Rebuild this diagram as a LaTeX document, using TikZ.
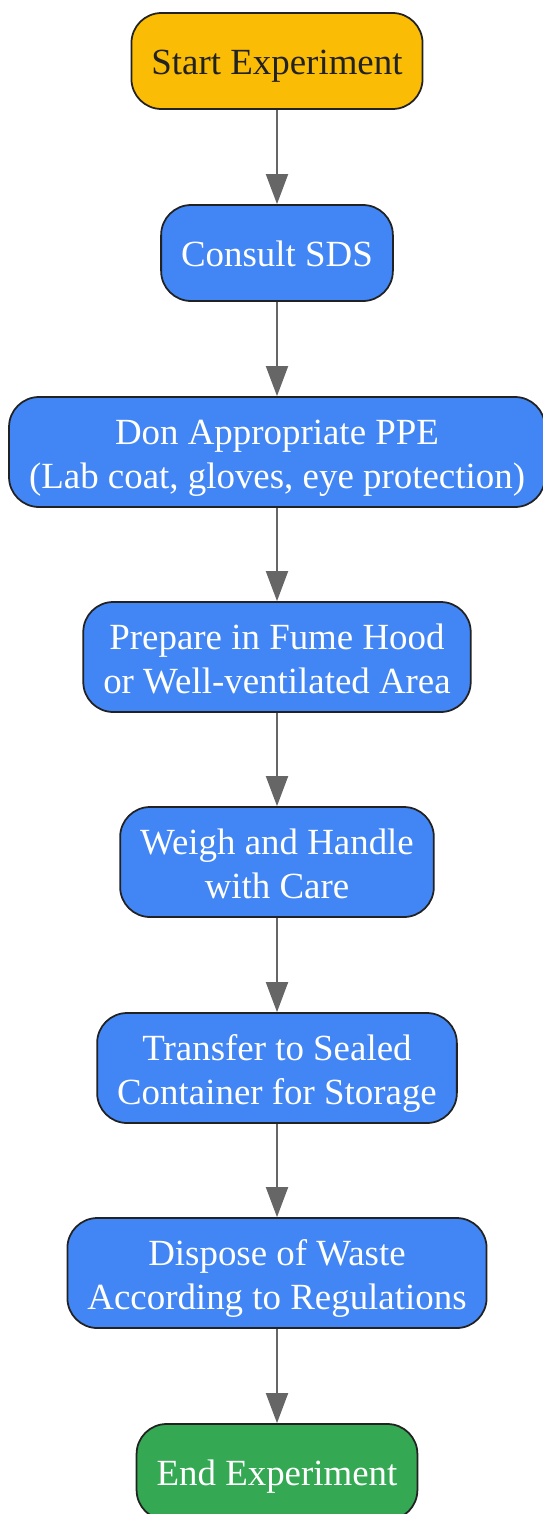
\documentclass[tikz,border=0pt]{standalone}
\usepackage{fontspec}
\setmainfont{Liberation Serif}
\usetikzlibrary{arrows.meta}

\begin{document}
\begin{tikzpicture}[
    stepnode/.style={draw=boxline, line width=1pt, rounded corners=0.6cm,
        align=center, inner xsep=0.4cm, inner ysep=0.1cm,
        font=\fontsize{21}{25}\selectfont},
    oneline/.style={stepnode, minimum height=1.92cm, text height=15pt, text depth=0pt},
    twoline/.style={stepnode, minimum height=2.2cm, text height=42pt, text depth=0pt},
    flow/.style={draw=arrowgray, line width=1.1pt,
        -{Triangle[width=0.44cm,length=0.6cm]}}
]
    % Define box colors
    \definecolor{startyellow}{HTML}{FBBC05}
    \definecolor{stepblue}{HTML}{4285F4}
    \definecolor{endgreen}{HTML}{34A853}
    \definecolor{boxline}{HTML}{222222}
    \definecolor{arrowgray}{HTML}{666666}

    % Fix the page size
    \useasboundingbox (0,0) rectangle (10.86,-30.28);

    % Steps of the procedure
    \node[oneline, fill=startyellow, text=boxline] (start) at (5.54,-1.22) {Start Experiment};
    \node[oneline, fill=stepblue, text=white] (sds) at (5.54,-5.06) {Consult SDS};
    \node[twoline, fill=stepblue, text=white] (ppe) at (5.54,-9.04) {Don Appropriate PPE\\(Lab coat, gloves, eye protection)};
    \node[twoline, fill=stepblue, text=white] (hood) at (5.54,-13.14) {Prepare in Fume Hood\\or Well-ventilated Area};
    \node[twoline, fill=stepblue, text=white] (weigh) at (5.54,-17.24) {Weigh and Handle\\with Care};
    \node[twoline, fill=stepblue, text=white] (store) at (5.54,-21.36) {Transfer to Sealed\\Container for Storage};
    \node[twoline, fill=stepblue, text=white] (waste) at (5.54,-25.46) {Dispose of Waste\\According to Regulations};
    \node[oneline, fill=endgreen, text=white] (finish) at (5.54,-29.44) {End Experiment};

    % Connect the steps
    \foreach \from/\to in {start/sds, sds/ppe, ppe/hood, hood/weigh, weigh/store, store/waste, waste/finish} {
        \draw[flow] (\from) -- (\to);
    }

\end{tikzpicture}
\end{document}
